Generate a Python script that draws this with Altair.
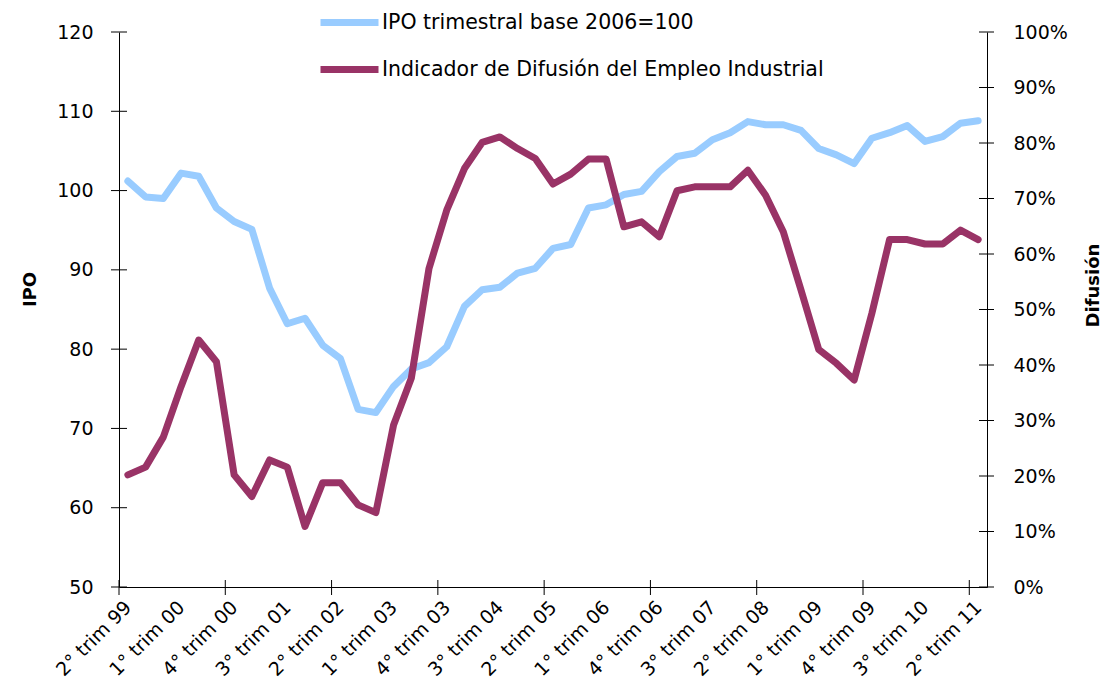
import altair as alt
import pandas as pd

quarters = [
    "2° trim 99", "3° trim 99", "4° trim 99",
    "1° trim 00", "2° trim 00", "3° trim 00", "4° trim 00",
    "1° trim 01", "2° trim 01", "3° trim 01", "4° trim 01",
    "1° trim 02", "2° trim 02", "3° trim 02", "4° trim 02",
    "1° trim 03", "2° trim 03", "3° trim 03", "4° trim 03",
    "1° trim 04", "2° trim 04", "3° trim 04", "4° trim 04",
    "1° trim 05", "2° trim 05", "3° trim 05", "4° trim 05",
    "1° trim 06", "2° trim 06", "3° trim 06", "4° trim 06",
    "1° trim 07", "2° trim 07", "3° trim 07", "4° trim 07",
    "1° trim 08", "2° trim 08", "3° trim 08", "4° trim 08",
    "1° trim 09", "2° trim 09", "3° trim 09", "4° trim 09",
    "1° trim 10", "2° trim 10", "3° trim 10", "4° trim 10",
    "1° trim 11", "2° trim 11",
]

ipo = [101.2, 99.2, 99.0, 102.2, 101.8, 97.8, 96.1, 95.1,
       87.7, 83.2, 83.9, 80.5, 78.8, 72.4, 72.0, 75.3,
       77.5, 78.3, 80.3, 85.4, 87.5, 87.8, 89.6, 90.2,
       92.7, 93.2, 97.8, 98.2, 99.5, 99.9, 102.4, 104.3,
       104.7, 106.4, 107.3, 108.7, 108.3, 108.3, 107.6, 105.3,
       104.5, 103.4, 106.6, 107.3, 108.2, 106.2, 106.8, 108.5,
       108.8]

difusion = [20.2, 21.6, 27.0, 36.1, 44.5, 40.6, 20.2, 16.3,
            22.9, 21.6, 10.9, 18.8, 18.8, 14.8, 13.4, 29.2,
            37.6, 57.4, 67.9, 75.4, 80.1, 81.1, 79.0, 77.2,
            72.6, 74.4, 77.1, 77.1, 64.9, 65.8, 63.1, 71.4,
            72.1, 72.1, 72.1, 75.1, 70.6, 64.0, 53.5, 42.8,
            40.3, 37.3, 49.3, 62.6, 62.6, 61.8, 61.8, 64.3,
            62.6]

series_names = ["IPO trimestral base 2006=100",
                "Indicador de Difusión del Empleo Industrial"]
colors = ["#99CCFF", "#993366"]

tick_labels = quarters[::3]
label_pos = [i + 0.5 for i in range(0, len(quarters), 3)]
boundary_ticks = list(range(0, len(quarters), 6))
ipo_ticks = list(range(50, 121, 10))
dif_ticks = list(range(0, 101, 10))

W, H = 868, 555
FONT = "DejaVu Sans"

df_ipo = pd.DataFrame({"pos": [i + 0.5 for i in range(len(quarters))],
                       "quarter": quarters, "IPO": ipo,
                       "series": series_names[0]})
df_dif = pd.DataFrame({"pos": [i + 0.5 for i in range(len(quarters))],
                       "quarter": quarters, "Difusion": difusion,
                       "series": series_names[1]})

xscale = alt.Scale(domain=[0, len(quarters)], nice=False, zero=False)
label_expr = "[" + ",".join("'" + s + "'" for s in tick_labels) + "][floor(datum.value / 3)]"
xaxis = alt.Axis(values=label_pos, labelExpr=label_expr, labelAngle=-45,
                 labelAlign="right", labelBaseline="middle", ticks=False,
                 tickSize=0, grid=False, title=None, labelPadding=17,
                 labelFontSize=19, labelColor="#000000", domainColor="#000000",
                 labelOverlap=False, labelFlush=False)

color = alt.Color("series:N",
                  scale=alt.Scale(domain=series_names, range=colors),
                  legend=alt.Legend(title=None, orient="none", legendX=198,
                                    legendY=-42, symbolType="stroke",
                                    symbolSize=3364, symbolStrokeWidth=7,
                                    labelFontSize=20.5, labelColor="#000000",
                                    labelOffset=0, rowPadding=-10, padding=0,
                                    labelLimit=600))

yscale_l = alt.Scale(domain=[50, 120], nice=False, zero=False)
yaxis_l = alt.Axis(values=ipo_ticks, title="IPO", titleFontSize=18,
                   titleFontWeight="bold", titleColor="#000000",
                   titleAngle=-90, titleX=-89, titleY=257,
                   titleBaseline="middle", titleAlign="center",
                   ticks=False, tickSize=0, grid=False, labelPadding=26,
                   labelFontSize=19, labelColor="#000000",
                   domainColor="#000000")

yscale_r = alt.Scale(domain=[0, 100], nice=False, zero=False)
yaxis_r = alt.Axis(values=dif_ticks, orient="right", title="Difusión",
                   titleFontSize=18, titleFontWeight="bold",
                   titleColor="#000000", titleAngle=-90, titleX=106,
                   titleY=253, titleBaseline="middle", titleAlign="center",
                   labelExpr="datum.value + '%'", ticks=False, tickSize=0,
                   grid=False, labelPadding=26, labelFontSize=19,
                   labelColor="#000000", domainColor="#000000",
                   labelAlign="left")

ipo_line = alt.Chart(df_ipo).mark_line(strokeWidth=7, strokeCap="round",
                                        strokeJoin="round").encode(
    x=alt.X("pos:Q", scale=xscale, axis=xaxis),
    y=alt.Y("IPO:Q", scale=yscale_l, axis=yaxis_l),
    color=color,
)

ipo_tick_df = pd.DataFrame({"IPO": ipo_ticks})
ipo_tick_marks = alt.Chart(ipo_tick_df).mark_rule(color="#000000",
                                                   strokeWidth=1).encode(
    y=alt.Y("IPO:Q", scale=yscale_l, axis=yaxis_l),
    x=alt.value(-8), x2=alt.value(8),
)

x_tick_df = pd.DataFrame({"pos": boundary_ticks})
x_tick_marks = alt.Chart(x_tick_df).mark_rule(color="#000000",
                                               strokeWidth=1).encode(
    x=alt.X("pos:Q", scale=xscale, axis=xaxis),
    y=alt.value(H - 7), y2=alt.value(H + 8),
)

dif_line = alt.Chart(df_dif).mark_line(strokeWidth=7, strokeCap="round",
                                        strokeJoin="round").encode(
    x=alt.X("pos:Q", scale=xscale, axis=xaxis),
    y=alt.Y("Difusion:Q", scale=yscale_r, axis=yaxis_r),
    color=color,
)

dif_tick_df = pd.DataFrame({"Difusion": dif_ticks})
dif_tick_marks = alt.Chart(dif_tick_df).mark_rule(color="#000000",
                                                   strokeWidth=1).encode(
    y=alt.Y("Difusion:Q", scale=yscale_r, axis=yaxis_r),
    x=alt.value(W - 8), x2=alt.value(W + 7),
)

left = alt.layer(x_tick_marks, ipo_tick_marks, ipo_line)
right = alt.layer(dif_tick_marks, dif_line)

chart = alt.layer(left, right).resolve_scale(y="independent").properties(
    width=W, height=H,
    autosize=alt.AutoSizeParams(type="none"),
    padding={"left": 111, "top": 24, "right": 115, "bottom": 100},
).configure(font=FONT).configure_view(stroke=None)

chart.save("out.html", embed_options={"renderer": "svg", "actions": False})
